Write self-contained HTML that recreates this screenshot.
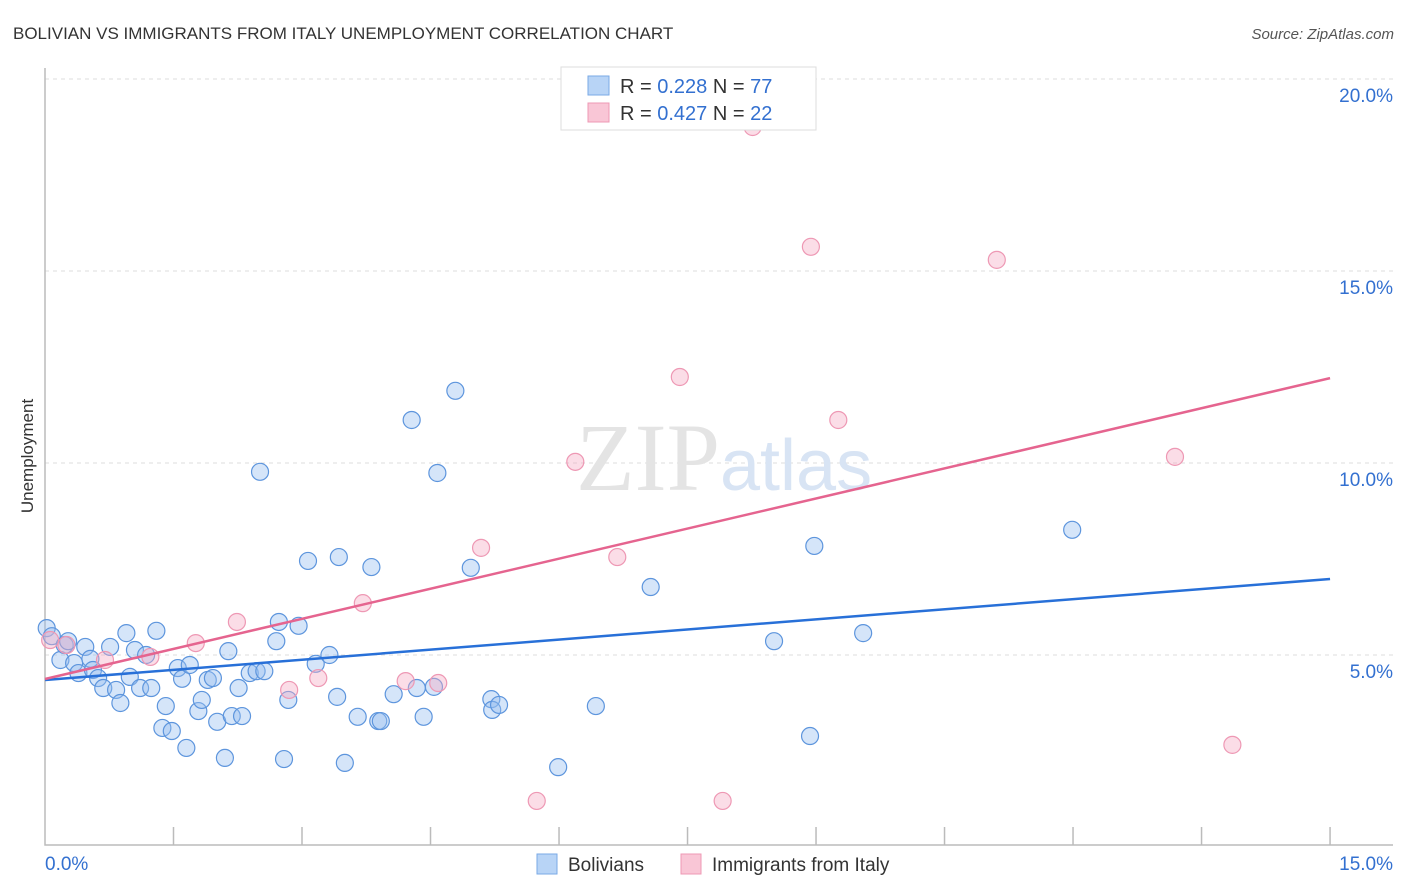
<!DOCTYPE html>
<html><head><meta charset="utf-8"><style>
body{margin:0;background:#fff;font-family:"Liberation Sans",sans-serif;}
svg{display:block}
</style></head><body>
<svg id="c" width="1406" height="892" xmlns="http://www.w3.org/2000/svg">
<text x="13" y="39" font-size="17" fill="#333">BOLIVIAN VS IMMIGRANTS FROM ITALY UNEMPLOYMENT CORRELATION CHART</text>
<text x="1394" y="39" font-size="15" fill="#555" font-style="italic" text-anchor="end">Source: ZipAtlas.com</text>
<text x="33" y="456" font-size="17" fill="#333" text-anchor="middle" transform="rotate(-90 33 456)">Unemployment</text>
<g id="grid"></g>
<text x="720" y="490" font-size="96" fill="#e4e4e4" text-anchor="end" font-family="Liberation Serif,serif">ZIP</text>
<text x="720" y="490" font-size="72" fill="#d8e4f4">atlas</text>
<g id="pts"></g>
<g id="lines"></g>
<g>
<rect x="561" y="67" width="255" height="63" fill="#fff" stroke="#ddd"/>
<rect x="588" y="76" width="21" height="19" fill="#b8d4f6" stroke="#7aaae6"/>
<rect x="588" y="103" width="21" height="19" fill="#f9c6d6" stroke="#ee98b4"/>
<text x="620" y="93" font-size="20" fill="#333">R = <tspan fill="#3370d0">0.228</tspan>   N = <tspan fill="#3370d0">77</tspan></text>
<text x="620" y="120" font-size="20" fill="#333">R = <tspan fill="#3370d0">0.427</tspan>   N = <tspan fill="#3370d0">22</tspan></text>
</g>
<g>
<rect x="537" y="854" width="20" height="20" fill="#b8d4f6" stroke="#7aaae6"/>
<text x="568" y="871" font-size="19" fill="#333">Bolivians</text>
<rect x="681" y="854" width="20" height="20" fill="#f9c6d6" stroke="#ee98b4"/>
<text x="712" y="871" font-size="19" fill="#333">Immigrants from Italy</text>
</g>
</svg>
<script>
const yTicks=[5,10,15,20];
const yTickLabels=["5.0%","10.0%","15.0%","20.0%"];
const xTickLabels=["0.0%","15.0%"];
const blueX=[0.02,0.08,0.18,0.23,0.27,0.34,0.39,0.47,0.53,0.56,0.62,0.68,0.76,0.83,0.88,0.95,0.99,1.05,1.11,1.18,1.24,1.30,1.37,1.41,1.48,1.55,1.60,1.65,1.69,1.79,1.83,1.90,1.96,2.01,2.10,2.14,2.18,2.26,2.30,2.39,2.47,2.51,2.56,2.70,2.73,2.79,2.84,2.96,3.07,3.16,3.32,3.41,3.43,3.50,3.65,3.81,3.89,3.92,4.07,4.28,4.34,4.42,4.54,4.58,4.79,4.97,5.21,5.22,5.30,5.99,6.43,7.07,8.51,8.93,8.98,9.55,11.99];
const blueY=[5.70,5.49,4.87,5.26,5.36,4.79,4.53,5.21,4.90,4.61,4.40,4.14,5.21,4.09,3.75,5.57,4.43,5.13,4.14,5.00,4.14,5.63,3.10,3.67,3.02,4.66,4.38,2.58,4.74,3.54,3.83,4.35,4.40,3.26,2.32,5.10,3.41,4.14,3.41,4.53,4.58,9.77,4.58,5.36,5.86,2.29,3.83,5.76,7.45,4.77,5.00,3.91,7.55,2.19,3.39,7.29,3.28,3.28,3.98,11.12,4.14,3.39,4.17,9.74,11.88,7.27,3.85,3.57,3.70,2.08,3.67,6.77,5.36,2.89,7.84,5.57,8.26];
const pinkX=[0.06,0.25,0.70,1.23,1.76,2.24,2.85,3.19,3.71,4.21,4.59,5.09,5.74,6.19,6.68,7.41,7.91,8.26,8.94,9.26,11.11,13.19,13.86];
const pinkY=[5.39,5.26,4.87,4.95,5.31,5.86,4.09,4.40,6.35,4.32,4.27,7.79,1.20,10.03,7.55,12.24,1.20,18.75,15.63,11.12,15.29,10.16,2.66];
const blueTrend=[4.35,6.98];
const pinkTrend=[4.375,12.21];
const NS="http://www.w3.org/2000/svg";
const X=v=>45+v*85.67, Y=v=>847-v*38.4;
function mk(p,tag,a){const e=document.createElementNS(NS,tag);for(const k in a)e.setAttribute(k,a[k]);p.appendChild(e);return e;}
const g=document.getElementById('grid');
yTicks.forEach((t,i)=>{
 const l=mk(g,'line',{x1:45,x2:1393,y1:Y(t),y2:Y(t),stroke:'#ddd','stroke-dasharray':'4,4'});
 
 
 const tx=mk(g,'text',{x:1393,y:Y(t)+23,'font-size':19,fill:'#3370d0','text-anchor':'end'});
 tx.textContent=yTickLabels[i];
 
 
});
const ax=mk(g,'path',{d:'M45,68V845H1393',fill:'none',stroke:'#bbb','stroke-width':1.5});


for(let i=1;i<=10;i++){const t=mk(g,'line',{x1:X(i*1.5),x2:X(i*1.5),y1:827,y2:845,stroke:'#bbb','stroke-width':1.5});
 
 }
const xl0=mk(g,'text',{x:45,y:870,'font-size':19,fill:'#3370d0'});xl0.textContent=xTickLabels[0];


const xl1=mk(g,'text',{x:1393,y:870,'font-size':19,fill:'#3370d0','text-anchor':'end'});xl1.textContent=xTickLabels[1];


const P=document.getElementById('pts');
blueX.forEach((x,i)=>{const c=mk(P,'circle',{cx:X(x),cy:Y(blueY[i]),r:8.5,fill:'rgba(150,190,240,0.4)',stroke:'#5d95dd','stroke-width':1.2});
 
 });
pinkX.forEach((x,i)=>{const c=mk(P,'circle',{cx:X(x),cy:Y(pinkY[i]),r:8.5,fill:'rgba(246,170,196,0.4)',stroke:'#ee98b4','stroke-width':1.2});
 
 });
const L=document.getElementById('lines');
const bl=mk(L,'line',{x1:X(0),y1:Y(blueTrend[0]),x2:X(15),y2:Y(blueTrend[1]),stroke:'#2870d8','stroke-width':2.5});


const pl=mk(L,'line',{x1:X(0),y1:Y(pinkTrend[0]),x2:X(15),y2:Y(pinkTrend[1]),stroke:'#e5648f','stroke-width':2.5});


</script>
</body></html>
